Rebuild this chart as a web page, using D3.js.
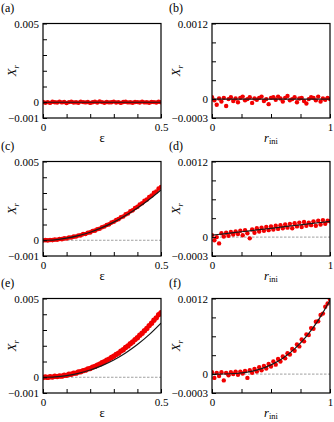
<!DOCTYPE html>
<html>
<head>
<meta charset="utf-8">
<script src="https://cdn.jsdelivr.net/npm/d3@7"></script>
<style>
  body { margin: 0; background: #fff; }
  svg { display: block; }
</style>
</head>
<body>
<svg id="chart" width="334" height="422"></svg>
<script>
var serif = "'Liberation Serif', 'Times New Roman', Times, serif";

// x samples
var eps = [0,0.01,0.02,0.03,0.04,0.05,0.06,0.07,0.08,0.09,0.1,0.11,0.12,0.13,0.14,0.15,0.16,0.17,0.18,0.19,0.2,
  0.21,0.22,0.23,0.24,0.25,0.26,0.27,0.28,0.29,0.3,0.31,0.32,0.33,0.34,0.35,0.36,0.37,0.38,0.39,0.4,
  0.41,0.42,0.43,0.44,0.45,0.46,0.47,0.48,0.49,0.5];
var rIni = [0,0.02,0.04,0.06,0.08,0.1,0.12,0.14,0.16,0.18,0.2,0.22,0.24,0.26,0.28,0.3,0.32,0.34,0.36,0.38,0.4,
  0.42,0.44,0.46,0.48,0.5,0.52,0.54,0.56,0.58,0.6,0.62,0.64,0.66,0.68,0.7,0.72,0.74,0.76,0.78,0.8,
  0.82,0.84,0.86,0.88,0.9,0.92,0.94,0.96,0.98,1];

// measured X_r (red dots)
var dotsA = [2e-5,-3e-5,1e-5,-4e-5,3e-5,0,-2e-5,4e-5,-1e-5,2e-5,-5e-5,1e-5,3e-5,-2e-5,0,-3e-5,4e-5,1e-5,-1e-5,2e-5,
  -4e-5,0,3e-5,-2e-5,5e-5,1e-5,-3e-5,2e-5,-1e-5,0,4e-5,-2e-5,1e-5,-4e-5,2e-5,3e-5,-1e-5,0,-3e-5,2e-5,
  1e-5,-2e-5,4e-5,-1e-5,0,-3e-5,2e-5,1e-5,-2e-5,3e-5,0];
var dotsC = [-0.00002,0.00001,-0.00001,0.00002,0.00001,0.00004,0.00003,0.00008,0.00007,0.00012,0.00011,
  0.00017,0.00017,0.00023,0.00024,0.00030,0.00031,0.00039,0.00040,0.00048,0.00050,
  0.00059,0.00061,0.00070,0.00073,0.00083,0.00087,0.00097,0.00101,0.00112,0.00117,
  0.00128,0.00134,0.00146,0.00151,0.00164,0.00170,0.00184,0.00190,0.00205,0.00212,
  0.00227,0.00235,0.00250,0.00258,0.00275,0.00284,0.00301,0.00310,0.00328,0.00338];
var dotsE = [-2e-5,2e-5,-1e-5,3e-5,1e-5,6e-5,4e-5,8e-5,7e-5,13e-5,12e-5,
  19e-5,19e-5,25e-5,26e-5,33e-5,35e-5,42e-5,45e-5,53e-5,56e-5,
  64e-5,69e-5,77e-5,83e-5,92e-5,98e-5,108e-5,115e-5,126e-5,133e-5,
  145e-5,153e-5,166e-5,175e-5,189e-5,199e-5,213e-5,224e-5,239e-5,251e-5,
  267e-5,279e-5,296e-5,310e-5,328e-5,343e-5,362e-5,377e-5,397e-5,410e-5];
var dotsB = [3e-5,-2e-5,-9e-5,1e-5,-4e-5,2e-5,-11e-5,0,3e-5,-3e-5,1e-5,-5e-5,2e-5,4e-5,-2e-5,0,3e-5,-6e-5,1e-5,-1e-5,
  2e-5,4e-5,-3e-5,0,-8e-5,2e-5,3e-5,-1e-5,4e-5,1e-5,-4e-5,2e-5,5e-5,-2e-5,0,3e-5,-5e-5,1e-5,2e-5,-3e-5,
  -7e-5,0,3e-5,2e-5,-2e-5,4e-5,-4e-5,1e-5,-1e-5,2e-5,0];
var dotsD = [3e-5,-5e-5,0,-10e-5,6e-5,1e-5,7e-5,2e-5,8e-5,4e-5,9e-5,5e-5,10e-5,3e-5,11e-5,6e-5,-2e-5,12e-5,7e-5,14e-5,
  9e-5,15e-5,10e-5,16e-5,11e-5,17e-5,12e-5,18e-5,13e-5,19e-5,14e-5,20e-5,15e-5,21e-5,14e-5,22e-5,17e-5,23e-5,16e-5,24e-5,
  18e-5,23e-5,19e-5,25e-5,18e-5,26e-5,20e-5,27e-5,21e-5,26e-5,25e-5];
var dotsF = [3e-5,-6e-5,2e-5,-3e-5,3e-5,-10e-5,2e-5,-2e-5,3e-5,0,4e-5,-1e-5,4e-5,1e-5,5e-5,-6e-5,6e-5,2e-5,8e-5,4e-5,
  11e-5,6e-5,13e-5,9e-5,16e-5,12e-5,20e-5,15e-5,24e-5,20e-5,28e-5,25e-5,33e-5,31e-5,40e-5,37e-5,47e-5,44e-5,55e-5,52e-5,
  63e-5,62e-5,73e-5,72e-5,83e-5,84e-5,94e-5,96e-5,107e-5,112e-5,119e-5];

// fitted curves (black)
var fitEpsX = [0,0.05,0.1,0.15,0.2,0.25,0.3,0.35,0.4,0.45,0.5];
var fitA = [0,0,0,0,0,0,0,0,0,0,0];
var fitC = [0,0.00003,0.00013,0.00029,0.00051,0.0008,0.00115,0.00157,0.00205,0.00259,0.0032];
var fitE = [0,0.000026,0.000107,0.000249,0.000458,0.000739,0.001099,0.001543,0.002077,0.002707,0.003438];
var fitRX = [0,0.1,0.2,0.3,0.4,0.5,0.6,0.7,0.8,0.9,1];
var fitB = [0,0,0,0,0,0,0,0,0,0,0];
var fitD = [0.00003,0.000052,0.000074,0.000096,0.000118,0.00014,0.000162,0.000184,0.000206,0.000228,0.00025];
var fitF = [0,0.0000012,0.0000094,0.0000316,0.0000749,0.000146,0.000253,0.000401,0.000599,0.000853,0.00117];

// ticks
var epsTicks = [0,0.1,0.2,0.3,0.4,0.5];
var rTicks = [0,0.25,0.5,0.75,1];
var yEpsTicks = [-0.001,0,0.001,0.002,0.003,0.004,0.005];
var yRTicks = [-0.0003,0,0.0003,0.0006,0.0009,0.0012];
var epsTickLabels = {"0": "0", "0.5": "0.5"};
var rTickLabels = {"0": "0", "1": "1"};
var yEpsTickLabels = {"-0.001": "\u22120.001", "0": "0", "0.005": "0.005"};
var yRTickLabels = {"-0.0003": "\u22120.0003", "0": "0", "0.0012": "0.0012"};

var panelW = 118, panelH = 94.5;
var colX = [43, 212];
var rowY = [23.5, 161.5, 298.5];

var panels = [
  {tag: "(a)", col: 0, row: 0, kind: "eps", dots: dotsA, fit: fitA, zero: false, rad: 2.2},
  {tag: "(b)", col: 1, row: 0, kind: "r", dots: dotsB, fit: fitB, zero: false, rad: 2.2},
  {tag: "(c)", col: 0, row: 1, kind: "eps", dots: dotsC, fit: fitC, zero: true, rad: 2.3},
  {tag: "(d)", col: 1, row: 1, kind: "r", dots: dotsD, fit: fitD, zero: true, rad: 2.2},
  {tag: "(e)", col: 0, row: 2, kind: "eps", dots: dotsE, fit: fitE, zero: true, rad: 2.7},
  {tag: "(f)", col: 1, row: 2, kind: "r", dots: dotsF, fit: fitF, zero: true, rad: 2.2}
];

var svg = d3.select("#chart").style("font-family", serif);

panels.forEach(function(p) {
  var isEps = p.kind === "eps";
  var x0 = colX[p.col], y0 = rowY[p.row];
  var xs = isEps ? eps : rIni;
  var fx = isEps ? fitEpsX : fitRX;

  var x = d3.scaleLinear().domain(isEps ? [0, 0.5] : [0, 1]).range([0, panelW]);
  var y = d3.scaleLinear().domain(isEps ? [-0.001, 0.005] : [-0.0003, 0.0012]).range([panelH, 0]);

  var g = svg.append("g").attr("transform", "translate(" + x0 + "," + y0 + ")");

  // clip so dots at the edges stay inside the frame
  var clipId = "clip" + p.col + p.row;
  g.append("clipPath").attr("id", clipId)
    .append("rect").attr("width", panelW).attr("height", panelH);
  var plot = g.append("g").attr("clip-path", "url(#" + clipId + ")");

  if (p.zero) {
    plot.append("line")
      .attr("x1", 0).attr("x2", panelW)
      .attr("y1", y(0)).attr("y2", y(0))
      .attr("stroke", "#888").attr("stroke-width", 0.8)
      .attr("stroke-dasharray", "2.5,1.5");
  }

  plot.selectAll("circle").data(p.dots).enter().append("circle")
    .attr("cx", function(d, i) { return x(xs[i]); })
    .attr("cy", function(d) { return y(d); })
    .attr("r", p.rad)
    .attr("fill", "#f20000");

  var line = d3.line()
    .x(function(d, i) { return x(fx[i]); })
    .y(function(d) { return y(d); })
    .curve(d3.curveMonotoneX);
  plot.append("path").datum(p.fit)
    .attr("d", line)
    .attr("fill", "none")
    .attr("stroke", "#1a1a1a")
    .attr("stroke-width", 1.2);

  // axes with inward ticks
  var xLab = isEps ? epsTickLabels : rTickLabels;
  var yLab = isEps ? yEpsTickLabels : yRTickLabels;
  var xAxis = d3.axisBottom(x).tickValues(isEps ? epsTicks : rTicks)
    .tickSize(-4).tickPadding(5)
    .tickFormat(function(d) { return xLab[String(d)] || ""; });
  var yAxis = d3.axisLeft(y).tickValues(isEps ? yEpsTicks : yRTicks)
    .tickSize(-4).tickPadding(4)
    .tickFormat(function(d) { return yLab[String(+d.toPrecision(6))] || ""; });

  var gx = g.append("g").attr("transform", "translate(0," + panelH + ")").call(xAxis);
  var gy = g.append("g").call(yAxis);
  [gx, gy].forEach(function(a) {
    a.attr("font-family", null).style("font-family", serif);
    a.select(".domain").remove();
    a.selectAll("line").attr("stroke", "#000").attr("stroke-width", 1);
    a.selectAll("text").attr("font-size", 11).style("font-family", serif);
  });

  g.append("rect")
    .attr("width", panelW).attr("height", panelH)
    .attr("fill", "none").attr("stroke", "#000").attr("stroke-width", 1.2);

  // panel tag
  svg.append("text")
    .attr("x", x0 - (p.col === 0 ? 42 : 43)).attr("y", y0 - 12)
    .attr("font-size", 12)
    .style("font-family", serif)
    .text(p.tag);

  // y title X_r
  var yt = g.append("text")
    .attr("transform", "translate(" + (p.col === 0 ? -27 : -32) + "," + (panelH / 2) + ") rotate(-90)")
    .attr("text-anchor", "middle")
    .attr("font-size", 12.5)
    .attr("font-style", "italic")
    .style("font-family", serif);
  yt.append("tspan").text("X");
  yt.append("tspan").attr("font-size", 8.5).attr("dy", 2.5).text("r");

  // x title
  var xt = g.append("text")
    .attr("x", panelW / 2).attr("y", panelH + 24)
    .attr("text-anchor", "middle")
    .attr("font-size", 12.5)
    .style("font-family", serif);
  if (isEps) {
    xt.text("\u03b5");
  } else {
    xt.append("tspan").attr("font-style", "italic").text("r");
    xt.append("tspan").attr("font-size", 8.5).attr("dy", 2).text("ini");
  }
});
</script>
</body>
</html>
